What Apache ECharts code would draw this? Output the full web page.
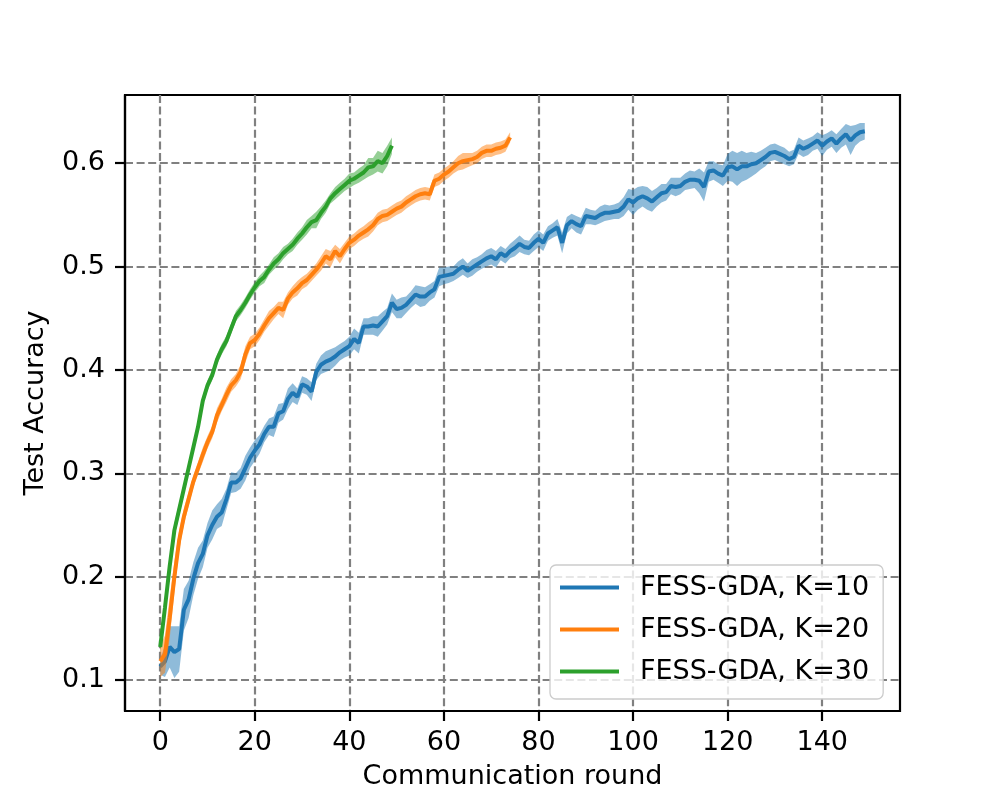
<!DOCTYPE html>
<html>
<head>
    <meta charset="UTF-8">
    <title>Test Accuracy</title>
    <style type="text/css">
        *{ margin: 0; padding: 0; }
        body{ background: #fff; }
        #main{ width: 1000px; height: 800px; }
    </style>
    <script src="https://cdn.jsdelivr.net/npm/echarts@6/dist/echarts.min.js"></script>
</head>
<body>
<div id="main"></div>
<script type="text/javascript">
    // ticks
    var xTicks = [0, 20, 40, 60, 80, 100, 120, 140];
    var yTicks = [0.1, 0.2, 0.3, 0.4, 0.5, 0.6];

    var names = ['FESS-GDA, K=10', 'FESS-GDA, K=20', 'FESS-GDA, K=30'];

    // K=10, mean per round (0..149)
    var meanK10 = [
        0.113, 0.118, 0.132, 0.127, 0.130, 0.168, 0.178, 0.198, 0.213, 0.222,
        0.240, 0.250, 0.258, 0.262, 0.275, 0.291, 0.291, 0.295, 0.305, 0.315,
        0.322, 0.328, 0.338, 0.345, 0.345, 0.358, 0.360, 0.372, 0.378, 0.374,
        0.386, 0.384, 0.379, 0.398, 0.405, 0.408, 0.410, 0.413, 0.417, 0.420,
        0.423, 0.430, 0.426, 0.442, 0.442, 0.443, 0.442, 0.447, 0.452, 0.465,
        0.459, 0.460, 0.463, 0.468, 0.473, 0.471, 0.471, 0.475, 0.478, 0.490,
        0.491, 0.492, 0.493, 0.497, 0.500, 0.496, 0.499, 0.502, 0.505, 0.508,
        0.510, 0.507, 0.513, 0.510, 0.515, 0.518, 0.522, 0.519, 0.518, 0.523,
        0.527, 0.523, 0.532, 0.535, 0.538, 0.523, 0.540, 0.544, 0.541, 0.539,
        0.549, 0.548, 0.547, 0.550, 0.552, 0.552, 0.553, 0.554, 0.558, 0.565,
        0.562, 0.566, 0.568, 0.566, 0.563, 0.567, 0.571, 0.572, 0.578, 0.577,
        0.578, 0.582, 0.584, 0.584, 0.583, 0.577, 0.592, 0.593, 0.590, 0.588,
        0.596, 0.597, 0.594, 0.597, 0.597, 0.599, 0.600, 0.603, 0.606, 0.610,
        0.611, 0.609, 0.607, 0.604, 0.606, 0.617, 0.614, 0.616, 0.619, 0.622,
        0.617, 0.621, 0.624, 0.619, 0.624, 0.628, 0.622, 0.627, 0.630, 0.631
    ];
    var stdK10 = [
        0.008, 0.015, 0.020, 0.025, 0.022, 0.020, 0.018, 0.016, 0.015, 0.013,
        0.012, 0.014, 0.012, 0.013, 0.010, 0.010, 0.009, 0.010, 0.012, 0.010,
        0.010, 0.009, 0.008, 0.008, 0.010, 0.009, 0.008, 0.010, 0.009, 0.008,
        0.008, 0.008, 0.009, 0.008, 0.009, 0.010, 0.010, 0.009, 0.008, 0.008,
        0.009, 0.010, 0.010, 0.008, 0.008, 0.009, 0.010, 0.009, 0.008, 0.009,
        0.009, 0.010, 0.008, 0.008, 0.009, 0.010, 0.009, 0.008, 0.008, 0.009,
        0.008, 0.008, 0.007, 0.008, 0.008, 0.007, 0.008, 0.007, 0.007, 0.008,
        0.008, 0.008, 0.007, 0.007, 0.007, 0.008, 0.008, 0.007, 0.007, 0.008,
        0.008, 0.008, 0.007, 0.007, 0.008, 0.010, 0.008, 0.007, 0.008, 0.008,
        0.008, 0.007, 0.007, 0.008, 0.008, 0.007, 0.007, 0.008, 0.009, 0.010,
        0.012, 0.011, 0.010, 0.011, 0.010, 0.009, 0.009, 0.008, 0.008, 0.009,
        0.008, 0.008, 0.009, 0.008, 0.012, 0.014, 0.010, 0.009, 0.009, 0.010,
        0.013, 0.015, 0.016, 0.015, 0.013, 0.012, 0.010, 0.009, 0.009, 0.008,
        0.008, 0.008, 0.008, 0.007, 0.007, 0.008, 0.008, 0.008, 0.007, 0.008,
        0.010, 0.008, 0.008, 0.009, 0.009, 0.010, 0.014, 0.010, 0.009, 0.008
    ];

    // K=20, mean per round (0..74)
    var meanK20 = [
        0.118, 0.125, 0.160, 0.200, 0.235, 0.258, 0.275, 0.292, 0.305, 0.318,
        0.330, 0.340, 0.356, 0.366, 0.376, 0.385, 0.390, 0.398, 0.415, 0.426,
        0.429, 0.435, 0.443, 0.450, 0.455, 0.460, 0.458, 0.469, 0.475, 0.479,
        0.484, 0.487, 0.492, 0.497, 0.503, 0.510, 0.507, 0.515, 0.510, 0.517,
        0.523, 0.526, 0.530, 0.533, 0.536, 0.540, 0.546, 0.549, 0.550, 0.553,
        0.556, 0.558, 0.562, 0.565, 0.568, 0.570, 0.571, 0.570, 0.583, 0.585,
        0.589, 0.592, 0.596, 0.600, 0.602, 0.603, 0.604, 0.606, 0.610, 0.612,
        0.612, 0.614, 0.615, 0.617, 0.625
    ];
    var stdK20 = [
        0.015, 0.018, 0.020, 0.015, 0.010, 0.008, 0.007, 0.006, 0.006, 0.007,
        0.006, 0.006, 0.007, 0.006, 0.007, 0.006, 0.006, 0.007, 0.008, 0.006,
        0.006, 0.006, 0.006, 0.007, 0.006, 0.006, 0.008, 0.006, 0.006, 0.007,
        0.006, 0.006, 0.006, 0.006, 0.007, 0.007, 0.008, 0.006, 0.007, 0.006,
        0.006, 0.006, 0.006, 0.006, 0.007, 0.006, 0.006, 0.006, 0.006, 0.006,
        0.006, 0.006, 0.006, 0.006, 0.006, 0.006, 0.006, 0.006, 0.006, 0.006,
        0.006, 0.006, 0.006, 0.007, 0.008, 0.007, 0.006, 0.006, 0.006, 0.006,
        0.006, 0.006, 0.006, 0.006, 0.005
    ];

    // K=30, mean per round (0..49)
    var meanK30 = [
        0.132, 0.170, 0.210, 0.245, 0.265, 0.285, 0.305, 0.325, 0.345, 0.370,
        0.385, 0.395, 0.410, 0.420, 0.428, 0.440, 0.452, 0.458, 0.465, 0.473,
        0.480, 0.486, 0.490, 0.497, 0.503, 0.507, 0.513, 0.517, 0.521, 0.527,
        0.532, 0.538, 0.543, 0.545, 0.552, 0.558, 0.566, 0.571, 0.575, 0.579,
        0.583, 0.585, 0.588, 0.591, 0.596, 0.597, 0.602, 0.600, 0.607, 0.617
    ];
    var stdK30 = [
        0.006, 0.008, 0.008, 0.007, 0.006, 0.005, 0.005, 0.005, 0.005, 0.005,
        0.005, 0.005, 0.005, 0.005, 0.005, 0.005, 0.005, 0.005, 0.005, 0.005,
        0.005, 0.005, 0.006, 0.005, 0.006, 0.006, 0.006, 0.005, 0.006, 0.006,
        0.006, 0.007, 0.006, 0.008, 0.006, 0.006, 0.005, 0.006, 0.006, 0.006,
        0.007, 0.006, 0.007, 0.007, 0.009, 0.008, 0.010, 0.010, 0.010, 0.008
    ];

    var colors = ['#1f77b4', '#ff7f0e', '#2ca02c'];
    var bandColors = ['rgba(31,119,180,0.5)', 'rgba(255,127,14,0.5)', 'rgba(44,160,44,0.5)'];
    var means = [meanK10, meanK20, meanK30];
    var stds = [stdK10, stdK20, stdK30];

    var font = 'DejaVu Sans';

    // shaded band (mean +/- std) drawn as one polygon through the axis scales
    function bandSeries(k) {
        var m = means[k], s = stds[k];
        var rows = m.map(function (v, i) { return [i, v - s[i], v + s[i]]; });
        return {
            type: 'custom', silent: true, z: 2 + k * 2,
            data: rows,
            encode: {x: 0, y: [1, 2]},
            renderItem: function (params, api) {
                if (params.dataIndex !== 0) return null;
                var pts = [], j;
                for (j = 0; j < rows.length; j++) pts.push(api.coord([rows[j][0], rows[j][2]]));
                for (j = rows.length - 1; j >= 0; j--) pts.push(api.coord([rows[j][0], rows[j][1]]));
                return {
                    type: 'polygon',
                    shape: {points: pts},
                    style: {fill: bandColors[k], stroke: null}
                };
            }
        };
    }

    var series = [];
    for (var k = 0; k < 3; k++) {
        series.push(bandSeries(k));
        series.push({
            name: names[k], type: 'line',
            data: means[k].map(function (v, i) { return [i, v]; }),
            symbol: 'none', color: colors[k],
            lineStyle: {width: 4, color: colors[k]}, z: 3 + k * 2
        });
    }

    var myChart = echarts.init(document.getElementById('main'));
    var option = {
        animation: false,
        backgroundColor: '#fff',
        textStyle: {fontFamily: font},
        grid: {
            left: 125, right: 100, top: 95, bottom: 89,
            show: true, borderColor: '#000', borderWidth: 2.2, backgroundColor: 'transparent'
        },
        legend: {
            data: names,
            orient: 'vertical',
            left: 550, top: 565,
            padding: [9, 14, 14, 10],
            itemGap: 15,
            itemWidth: 59, itemHeight: 4,
            icon: 'rect',
            backgroundColor: 'rgba(255,255,255,0.8)',
            borderColor: '#cccccc', borderWidth: 1.3, borderRadius: 6,
            textStyle: {fontFamily: font, fontSize: 27, color: '#000', padding: [0, 0, 0, 16]}
        },
        xAxis: {
            type: 'value', min: -7.45, max: 156.45,
            name: 'Communication round', nameLocation: 'middle', nameGap: 52,
            nameTextStyle: {fontFamily: font, fontSize: 27, color: '#000'},
            axisLine: {onZero: false, lineStyle: {color: '#000', width: 2.2}},
            axisTick: {customValues: xTicks, length: 10, lineStyle: {color: '#000', width: 2.2}},
            axisLabel: {customValues: xTicks, fontFamily: font, fontSize: 27, color: '#000', margin: 18},
            splitLine: {show: true, lineStyle: {color: '#808080', width: 2.2, type: [8, 3.6]}}
        },
        yAxis: {
            type: 'value', min: 0.07, max: 0.666,
            name: 'Test Accuracy', nameLocation: 'middle', nameGap: 76,
            nameTextStyle: {fontFamily: font, fontSize: 27, color: '#000'},
            axisLine: {onZero: false, lineStyle: {color: '#000', width: 2.2}},
            axisTick: {customValues: yTicks, length: 10, lineStyle: {color: '#000', width: 2.2}},
            axisLabel: {
                customValues: yTicks, fontFamily: font, fontSize: 27, color: '#000', margin: 20,
                formatter: function (v) { return v.toFixed(1); }
            },
            splitLine: {show: true, lineStyle: {color: '#808080', width: 2.2, type: [8, 3.6]}}
        },
        series: series
    };
    myChart.setOption(option);
</script>
</body>
</html>
